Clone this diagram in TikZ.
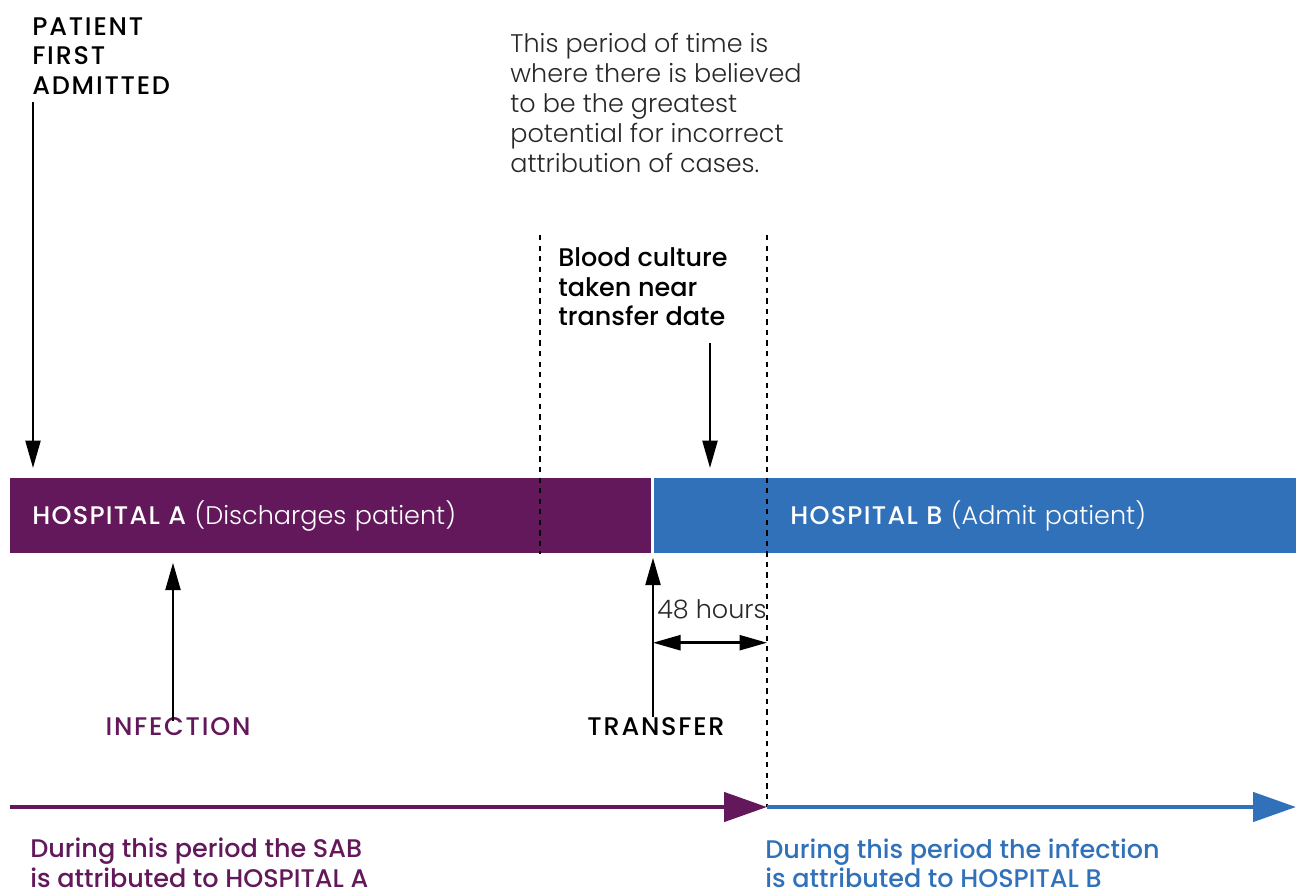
\documentclass[tikz,border=0pt]{standalone}
\usepackage{fontspec}
\setmainfont{Poppins Light}[BoldFont={Poppins Medium}]
\usetikzlibrary{positioning,arrows.meta,calc}

\definecolor{hospA}{RGB}{98,24,90}
\definecolor{hospB}{RGB}{49,113,185}
\definecolor{note}{RGB}{40,40,40}

% wider tracking for the capitals
\newcommand\capsfont{\bfseries\fontsize{14.5}{17}\selectfont\addfontfeature{LetterSpace=7}}

\tikzset{
  bar/.style={anchor=north west, minimum height=1.5cm, inner xsep=0.44cm,
    align=left, text=white, font=\fontsize{14.5}{17}\selectfont},
  lbl/.style={inner sep=0pt, align=left, font=\fontsize{14.5}{17}\selectfont},
  caps/.style={lbl, font=\capsfont},
  ptr/.style={line width=1.4pt, -{Triangle[length=0.55cm,width=0.3cm]}},
  span/.style={line width=1.4pt, {Triangle[length=0.55cm,width=0.3cm]}-{Triangle[length=0.55cm,width=0.3cm]}},
  marker/.style={line width=0.6pt, dash pattern=on 3pt off 3pt},
  period/.style={line width=2.6pt, -{Triangle[length=0.86cm,width=0.58cm]}},
}

\begin{document}
\begin{tikzpicture}
  \useasboundingbox (0,0) rectangle (25.92,-17.8);

  % the two stays
  \node[bar, fill=hospA, text width=11.94cm] (hospA) at (0.2,-9.56)
    {{\bfseries\addfontfeature{LetterSpace=5}HOSPITAL A} (Discharges patient)};
  \node[bar, fill=hospB, text width=11.96cm, inner xsep=0.46cm] (hospB) at (13.08,-9.56)
    {\hspace{2.26cm}{\bfseries\addfontfeature{LetterSpace=5}HOSPITAL B} (Admit patient)};

  % texts above
  \node[caps, anchor=north west] (admit) at (0.64,-0.34)
    {PATIENT\\FIRST\\ADMITTED};
  \node[lbl, anchor=north west, text=note] (window) at (10.2,-0.66)
    {This period of time is\\where there is believed\\to be the greatest\\potential for incorrect\\attribution of cases.};
  \node[lbl, anchor=north west, font=\bfseries\fontsize{14.5}{17}\selectfont] (culture) at (11.16,-4.94)
    {Blood culture\\taken near\\transfer date};

  % texts below
  \node[caps, text=hospA] (infection) at (3.56,-14.54) {INFECTION};
  \node[caps] (transfer) at (13.12,-14.54) {TRANSFER};
  \node[lbl, anchor=west, text=note] (hours) at (13.14,-12.18) {48 hours};

  % window edges
  \coordinate (edgeL) at (10.8,-4.7);
  \coordinate (edgeR) at (15.34,-4.7);
  \coordinate (split) at (15.34,-16.14);
  \draw[marker] (edgeL) -- (edgeL |- hospA.south);
  \draw[marker] (edgeR) -- (split);

  % pointers
  \draw[ptr] ($(admit.south west)+(0.02,-0.14)$) -- ($(hospA.north west)+(0.46,0.2)$);
  \draw[ptr] ($(hospB.north west)+(1.12,2.7)$) -- ($(hospB.north west)+(1.12,0.2)$);
  \draw[ptr] ($(infection.north)+(-0.1,-0.06)$) -- ($(hospA.south west)+(3.26,-0.18)$);
  \draw[ptr] ($(transfer.north)+(-0.06,0.02)$) -- ($(hospB.south west)+(-0.02,-0.08)$);
  \coordinate (spanL) at ($(hospB.south west)+(-0.02,-1.78)$);
  \draw[span] (spanL) -- (edgeR |- spanL);

  % periods of attribution
  \draw[period, hospA] (0.2,-16.14) -- (split);
  \draw[period, hospB] (split) -- (25.92,-16.14);

  \node[lbl, anchor=north west, text=hospA, font=\bfseries\fontsize{14.5}{17}\selectfont] (capA) at (0.6,-16.76)
    {During this period the SAB\\is attributed to HOSPITAL A};
  \node[lbl, anchor=north west, text=hospB, font=\bfseries\fontsize{14.5}{17}\selectfont] (capB) at (15.3,-16.76)
    {During this period the infection\\is attributed to HOSPITAL B};
\end{tikzpicture}
\end{document}
